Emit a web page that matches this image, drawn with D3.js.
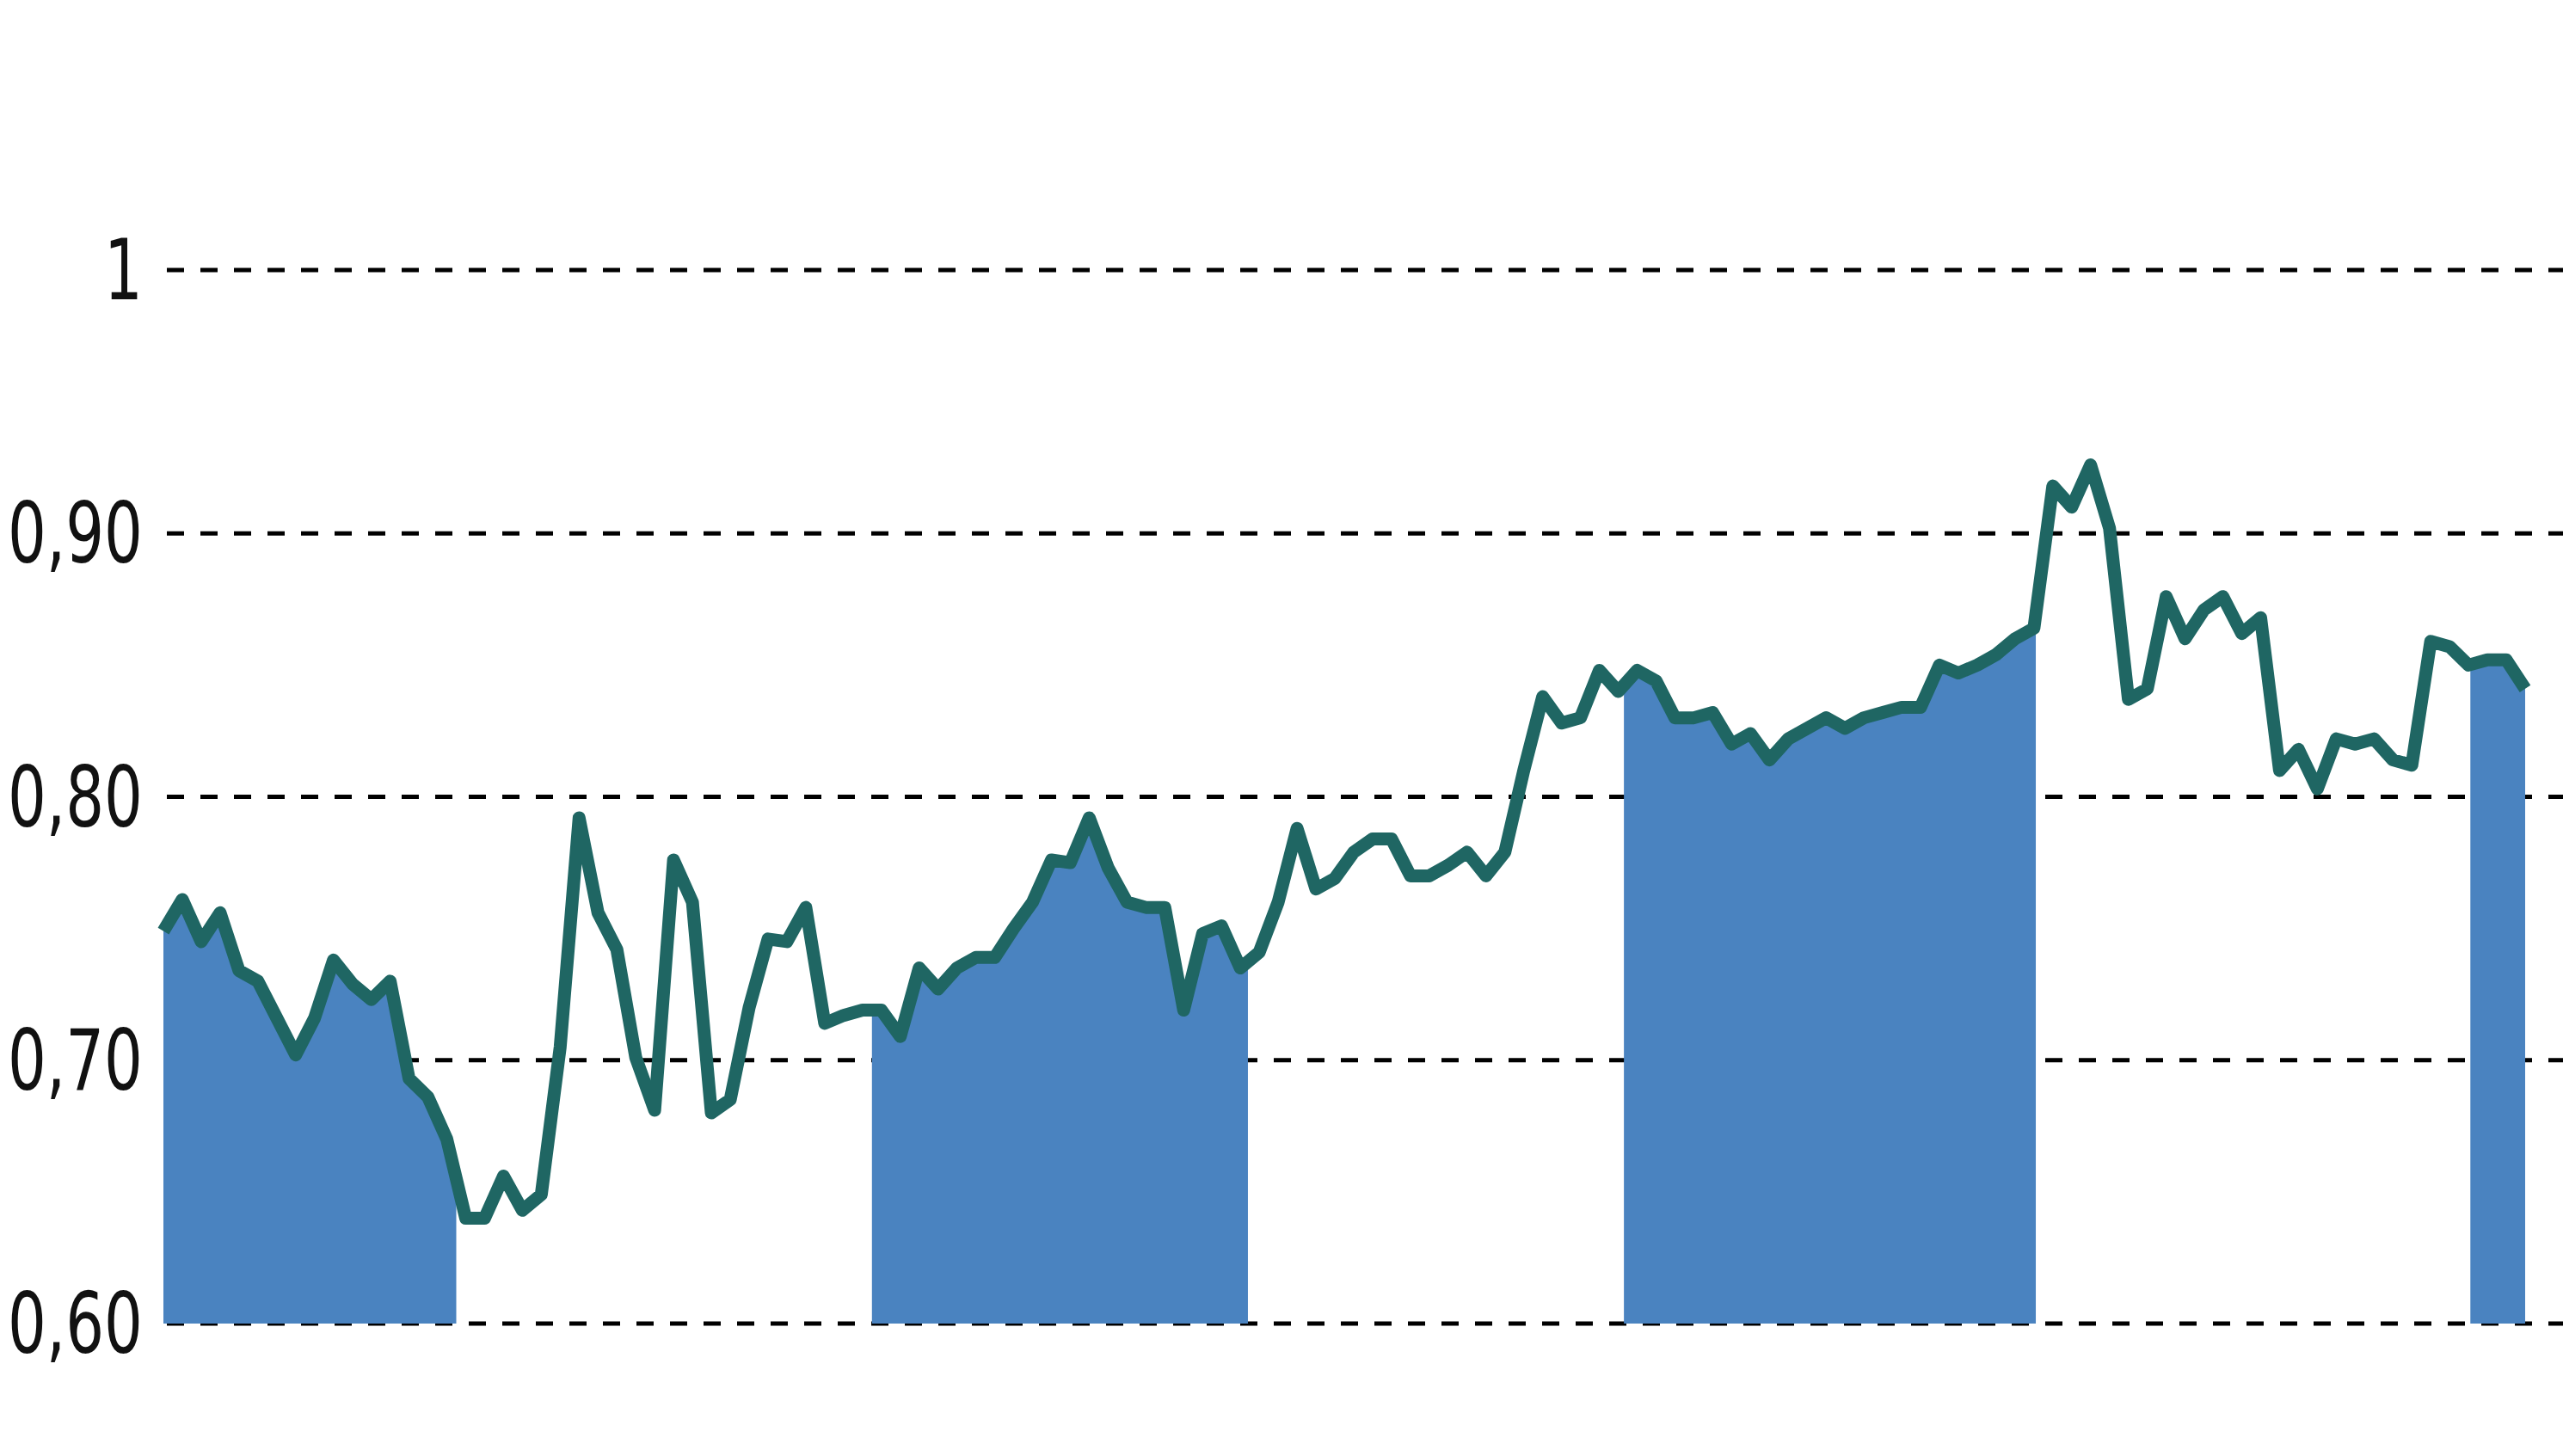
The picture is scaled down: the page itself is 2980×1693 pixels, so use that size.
<!DOCTYPE html>
<html>
<head>
<meta charset="utf-8">
<script src="https://cdn.jsdelivr.net/npm/d3@7"></script>
<style>
  html, body { margin: 0; padding: 0; background: #fff; }
  svg { display: block; }
</style>
</head>
<body>
<svg id="chart"></svg>
<script>
// valeurs
const values = [
  0.749, 0.761, 0.745, 0.756, 0.734, 0.730, 0.716, 0.702, 0.716, 0.738,
  0.729, 0.723, 0.730, 0.693, 0.686, 0.670, 0.640, 0.640, 0.656, 0.643,
  0.649, 0.705, 0.792, 0.756, 0.742, 0.701, 0.681, 0.776, 0.760, 0.680,
  0.685, 0.720, 0.746, 0.745, 0.758, 0.714, 0.717, 0.719, 0.719, 0.709,
  0.735, 0.727, 0.735, 0.739, 0.739, 0.750, 0.760, 0.776, 0.775, 0.792,
  0.773, 0.760, 0.758, 0.758, 0.719, 0.748, 0.751, 0.735, 0.741, 0.760,
  0.788, 0.765, 0.769, 0.779, 0.784, 0.784, 0.770, 0.770, 0.774, 0.779,
  0.770, 0.779, 0.810, 0.838, 0.828, 0.830, 0.848, 0.840, 0.848, 0.844,
  0.830, 0.830, 0.832, 0.820, 0.824, 0.814, 0.822, 0.826, 0.830, 0.826,
  0.830, 0.832, 0.834, 0.834, 0.850, 0.847, 0.850, 0.854, 0.860, 0.864,
  0.918, 0.910, 0.926, 0.902, 0.837, 0.841, 0.876, 0.860, 0.871, 0.876,
  0.862, 0.868, 0.810, 0.818, 0.803, 0.822, 0.820, 0.822, 0.814, 0.812,
  0.859, 0.857, 0.850, 0.852, 0.852, 0.841
];
// périodes ombrées (indices de début et de fin)
const bandStart = [0, 37.5, 77.3, 122.1];
const bandEnd   = [15.5, 57.4, 99.1, 125];
const tickValues = [0.6, 0.7, 0.8, 0.9, 1];
const tickLabels = ["0,60", "0,70", "0,80", "0,90", "1"];

const width = 2980, height = 1693;
const svg = d3.select("#chart").attr("width", width).attr("height", height);

const x = d3.scaleLinear().domain([0, values.length - 1]).range([190, 2936]);
const y = d3.scaleLinear().domain([0.6, 1]).range([1539, 314]);

// grille pointillée
svg.append("g").selectAll("line")
  .data(tickValues)
  .join("line")
  .attr("x1", 194).attr("x2", width)
  .attr("y1", d => y(d)).attr("y2", d => y(d))
  .attr("stroke", "#000").attr("stroke-width", 5)
  .attr("stroke-dasharray", "20 19");

// étiquettes de l'axe (police étroite)
svg.append("g").selectAll("text")
  .data(tickValues)
  .join("text")
  .attr("transform", d => "translate(166," + (y(d) + 34) + ") scale(0.72,1)")
  .attr("text-anchor", "end")
  .style("font-family", "'DejaVu Sans', sans-serif")
  .style("font-size", "98px")
  .attr("fill", "#111")
  .text((d, i) => tickLabels[i]);

// zones ombrées sous la courbe
const defs = svg.append("defs");
bandStart.forEach((s, i) => {
  defs.append("clipPath").attr("id", "band" + i)
    .append("rect")
    .attr("x", x(s)).attr("width", x(bandEnd[i]) - x(s))
    .attr("y", 0).attr("height", height);
});
const area = d3.area()
  .x((d, i) => x(i))
  .y0(y(0.6))
  .y1(d => y(d));
bandStart.forEach((s, i) => {
  svg.append("path")
    .datum(values)
    .attr("clip-path", "url(#band" + i + ")")
    .attr("fill", "#4a83c0")
    .attr("d", area);
});

// courbe
const line = d3.line().x((d, i) => x(i)).y(d => y(d));
svg.append("path")
  .datum(values)
  .attr("fill", "none")
  .attr("stroke", "#1f6663")
  .attr("stroke-width", 15)
  .attr("stroke-linejoin", "round")
  .attr("d", line);
</script>
</body>
</html>
